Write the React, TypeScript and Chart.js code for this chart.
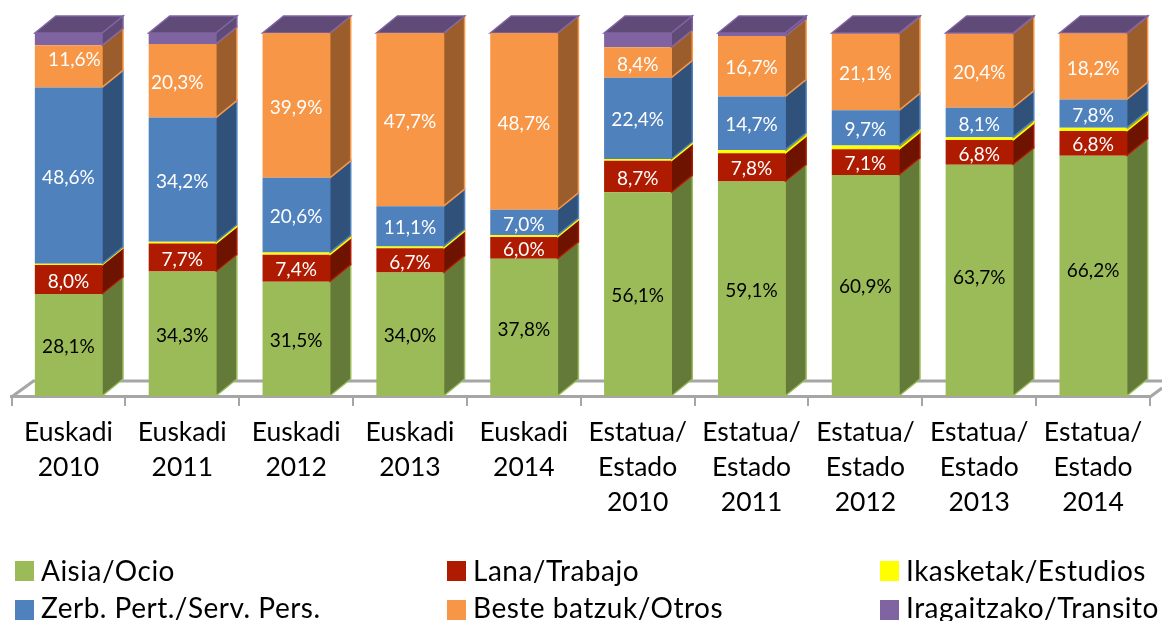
import React, { useEffect, useRef } from "react";
import { Chart, registerables } from "chart.js";

Chart.register(...registerables);

const categories = [
  ["Euskadi", "2010"],
  ["Euskadi", "2011"],
  ["Euskadi", "2012"],
  ["Euskadi", "2013"],
  ["Euskadi", "2014"],
  ["Estatua/", "Estado", "2010"],
  ["Estatua/", "Estado", "2011"],
  ["Estatua/", "Estado", "2012"],
  ["Estatua/", "Estado", "2013"],
  ["Estatua/", "Estado", "2014"],
];

const aisia = [28.1, 34.3, 31.5, 34.0, 37.8, 56.1, 59.1, 60.9, 63.7, 66.2];
const lana = [8.0, 7.7, 7.4, 6.7, 6.0, 8.7, 7.8, 7.1, 6.8, 6.8];
const ikasketak = [0.3, 0.5, 0.6, 0.5, 0.5, 0.5, 0.9, 1.0, 0.8, 0.9];
const zerb = [48.6, 34.2, 20.6, 11.1, 7.0, 22.4, 14.7, 9.7, 8.1, 7.8];
const beste = [11.6, 20.3, 39.9, 47.7, 48.7, 8.4, 16.7, 21.1, 20.4, 18.2];
const iragaitzako = [3.4, 3.0, 0, 0, 0, 3.9, 0.8, 0.2, 0.2, 0.1];

const DX = 21;
const DY = 17;

const seriesStyle = [
  { label: "Aisia/Ocio", data: aisia, color: "#9BBB59", side: "#637A38", text: "#000000" },
  { label: "Lana/Trabajo", data: lana, color: "#AE1B01", side: "#6E1300", text: "#FFFFFF" },
  { label: "Ikasketak/Estudios", data: ikasketak, color: "#FFFF00", side: "#A8A800", text: null },
  { label: "Zerb. Pert./Serv. Pers.", data: zerb, color: "#4F81BD", side: "#30527A", text: "#FFFFFF" },
  { label: "Beste batzuk/Otros", data: beste, color: "#F79646", side: "#9A5D2B", text: "#FFFFFF" },
  { label: "Iragaitzako/Transito", data: iragaitzako, color: "#8064A2", side: "#5F4A78", text: null },
];

const labelFont = '19px Lato, "Open Sans", sans-serif';
const legendFont = '28px Lato, "Open Sans", sans-serif';

const nudges: Record<string, [number, number]> = {
  "4:0": [6, -9],
  "4:1": [-5, 0],
  "0:7": [0, -1],
  "0:8": [0, -5],
  "0:9": [0, -7],
};

const legendColumns = [15, 447, 880];
const legendRows = [571, 610];
const legendTextY = [572, 609];

const poly = (ctx: CanvasRenderingContext2D, pts: number[][], fill: string, stroke: string) => {
  ctx.beginPath();
  pts.forEach(([x, y], i) => (i ? ctx.lineTo(x, y) : ctx.moveTo(x, y)));
  ctx.closePath();
  ctx.fillStyle = fill;
  ctx.fill();
  ctx.strokeStyle = stroke;
  ctx.lineWidth = 1.5;
  ctx.stroke();
};

const depthPlugin = {
  id: "depth",
  beforeDatasetsDraw(chart: any) {
    const { ctx, chartArea } = chart;
    const { left, right, bottom } = chartArea;
    ctx.save();
    ctx.strokeStyle = "#A6A6A6";
    ctx.lineWidth = 3;
    ctx.beginPath();
    ctx.moveTo(left, bottom + 1);
    ctx.lineTo(left + DX + 1, bottom - 15);
    ctx.lineTo(right + 12, bottom - 15);
    ctx.moveTo(right, bottom + 1);
    ctx.lineTo(right + 12, bottom - 8);
    ctx.stroke();
    ctx.restore();
    ctx.save();
    chart.data.datasets.forEach((ds: any, d: number) => {
      const meta = chart.getDatasetMeta(d);
      meta.data.forEach((bar: any) => {
        const { x, y, base, width } = bar.getProps(["x", "y", "base", "width"], true);
        if (Math.abs(base - y) < 0.01) return;
        const r = x + width / 2;
        poly(ctx, [[r, y], [r + DX, y - DY], [r + DX, base - DY], [r, base]], ds.sideColor, ds.backgroundColor);
      });
    });
    const last = chart.data.datasets.length - 1;
    const topDs = chart.data.datasets[last];
    chart.getDatasetMeta(last).data.forEach((bar: any) => {
      const { x, y, width } = bar.getProps(["x", "y", "width"], true);
      const l = x - width / 2;
      const r = x + width / 2;
      poly(ctx, [[l, y], [l + DX, y - DY], [r + DX, y - DY], [r, y]], topDs.sideColor, topDs.backgroundColor);
    });
    ctx.restore();
  },
  afterDatasetsDraw(chart: any) {
    const { ctx } = chart;
    ctx.save();
    ctx.font = labelFont;
    ctx.textAlign = "center";
    ctx.textBaseline = "middle";
    chart.data.datasets.forEach((ds: any, d: number) => {
      if (!ds.labelColor) return;
      chart.getDatasetMeta(d).data.forEach((bar: any, i: number) => {
        const { x, y, base } = bar.getProps(["x", "y", "base"], true);
        const [nx, ny] = nudges[`${d}:${i}`] || [0, 0];
        ctx.fillStyle = ds.labelColor;
        const text = ds.data[i].toFixed(1).replace(".", ",") + "%";
        ctx.fillText(text, x + nx, (y + base) / 2 + ny + 2);
      });
    });
    ctx.restore();
    ctx.save();
    ctx.font = legendFont;
    (ctx as any).letterSpacing = "0.5px";
    ctx.textAlign = "left";
    ctx.textBaseline = "middle";
    chart.data.datasets.forEach((ds: any, d: number) => {
      const cx = legendColumns[d % 3];
      const row = Math.floor(d / 3);
      ctx.fillStyle = ds.backgroundColor;
      ctx.fillRect(cx, legendRows[row] - 10, 19, 20);
      ctx.fillStyle = "#000000";
      ctx.fillText(ds.label, cx + 26, legendTextY[row]);
    });
    ctx.restore();
  },
};

export default function App() {
  const ref = useRef<HTMLCanvasElement>(null);
  useEffect(() => {
    document.body.style.margin = "0";
    const chart = new Chart(ref.current!, {
      type: "bar",
      data: {
        labels: categories,
        datasets: seriesStyle.map((s) => ({
          label: s.label,
          data: s.data,
          backgroundColor: s.color,
          sideColor: s.side,
          labelColor: s.text,
          borderWidth: 0,
          barPercentage: 0.59,
          categoryPercentage: 1,
        })) as any,
      },
      options: {
        animation: false,
        responsive: false,
        layout: { padding: { left: 11.5, right: 12, top: 33, bottom: 0 } },
        plugins: { legend: { display: false }, tooltip: { enabled: false }, title: { display: false } },
        scales: {
          x: {
            stacked: true,
            offset: true,
            afterFit: (s: any) => {
              s.height = 225;
            },
            border: { display: true, color: "#A6A6A6", width: 3 },
            grid: {
              offset: true,
              drawOnChartArea: false,
              drawTicks: true,
              tickLength: 10,
              color: "#A6A6A6",
              lineWidth: 2,
            },
            ticks: {
              autoSkip: false,
              maxRotation: 0,
              minRotation: 0,
              color: "#000000",
              padding: 9,
              font: { family: 'Lato, "Open Sans", sans-serif', size: 26.5, lineHeight: 1.32 },
            },
          },
          y: { stacked: true, display: false, min: 0, max: 100 },
        },
      },
      plugins: [depthPlugin],
    });
    return () => chart.destroy();
  }, []);
  return <canvas ref={ref} width={1162} height={621} style={{ display: "block" }} />;
}
